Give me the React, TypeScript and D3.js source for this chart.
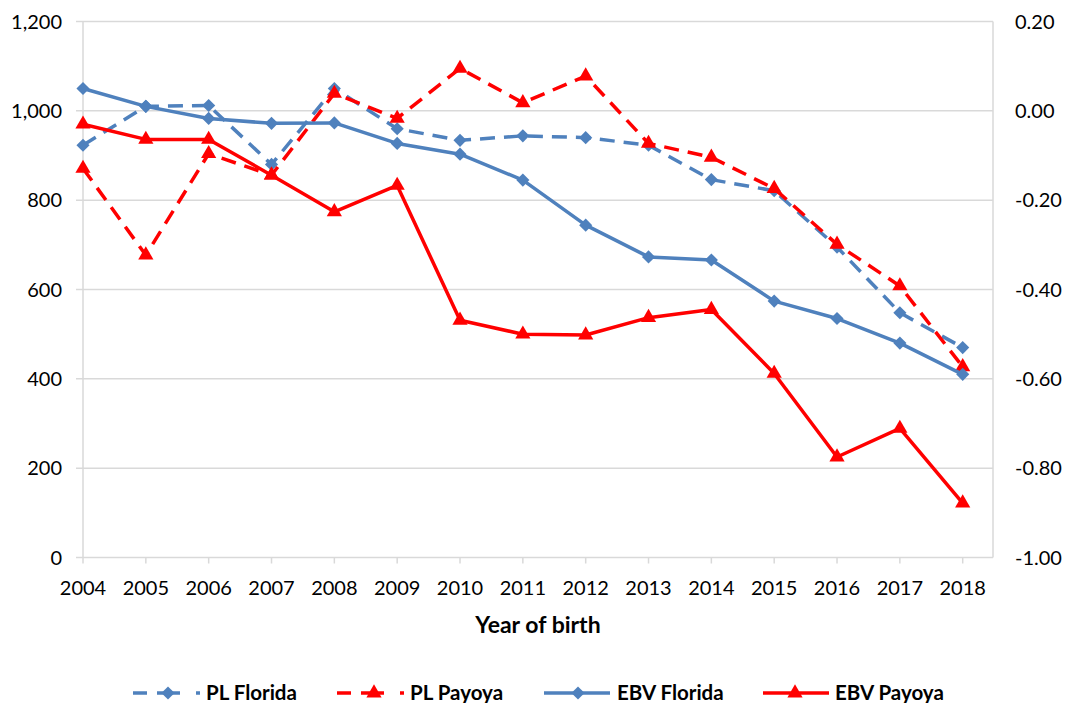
import React from "react";
import * as d3 from "d3";

const years = ["2004","2005","2006","2007","2008","2009","2010","2011","2012","2013","2014","2015","2016","2017","2018"];
const plFlorida = [923, 1010, 1012, 880, 1050, 960, 934, 944, 940, 923, 846, 821, 695, 548, 470];
const plPayoya = [871, 677, 904, 856, 1039, 983, 1095, 1018, 1078, 927, 896, 826, 701, 608, 427];
const ebvFlorida = [0.05, 0.01, -0.017, -0.028, -0.027, -0.073, -0.097, -0.155, -0.256, -0.327, -0.334, -0.426, -0.465, -0.52, -0.59];
const ebvPayoya = [-0.03, -0.064, -0.064, -0.144, -0.226, -0.167, -0.469, -0.5, -0.502, -0.463, -0.445, -0.588, -0.775, -0.711, -0.878];
const leftTicks = [0, 200, 400, 600, 800, 1000, 1200];
const rightTicks = [-1, -0.8, -0.6, -0.4, -0.2, 0, 0.2];

const BLUE = "#4F81BD";
const RED = "#FF0000";
const GRID = "#D9D9D9";
const FONT = "Lato, 'Open Sans', sans-serif";

const W = 1067, H = 703;
const plotL = 83, plotR = 993, plotT = 21.5, plotB = 557.5;

export default function App() {
  const x = d3.scalePoint<string>().domain(years).range([plotL, 962.7]);
  const yL = d3.scaleLinear().domain([0, 1200]).range([plotB, plotT]);
  const yR = d3.scaleLinear().domain([-1, 0.2]).range([plotB, plotT]);
  const fmtL = d3.format(",");
  const fmtR = (v: number) => d3.format(".2f")(v).replace("\u2212", "-");

  const series = [
    { name: "PL Florida", values: plFlorida, y: yL, color: BLUE, dash: "15,9", marker: "diamond" },
    { name: "PL Payoya", values: plPayoya, y: yL, color: RED, dash: "15,9", marker: "triangle" },
    { name: "EBV Florida", values: ebvFlorida, y: yR, color: BLUE, dash: null, marker: "diamond" },
    { name: "EBV Payoya", values: ebvPayoya, y: yR, color: RED, dash: null, marker: "triangle" },
  ];

  const diamond = d3.symbol().type(d3.symbolDiamond2).size(110)();
  const triangle = d3.symbol().type(d3.symbolTriangle).size(100)();
  const markerPath = (m: string) => (m === "diamond" ? diamond : triangle);

  const legendItems = [
    { s: series[0], x0: 133, x1: 200, mx: 168, tx: 206, dash: "14,10,23,16,4" },
    { s: series[1], x0: 337, x1: 404, mx: 374, tx: 410, dash: "14,10,23,16,4" },
    { s: series[2], x0: 544, x1: 610, mx: 578, tx: 617, dash: null },
    { s: series[3], x0: 763, x1: 829, mx: 795, tx: 835, dash: null },
  ];
  const legY = 693;

  return (
    <svg width={W} height={H} style={{ position: "fixed", left: 0, top: 0, background: "#fff" }} fontFamily={FONT}>
      <rect x={0} y={0} width={W} height={H} fill="#fff" />
      {leftTicks.map((t) => (
        <line key={"g" + t} x1={76} x2={plotR} y1={yL(t)} y2={yL(t)} stroke={GRID} strokeWidth={1.5} />
      ))}
      <line x1={plotR} x2={plotR} y1={plotT} y2={plotB} stroke={GRID} strokeWidth={1.5} />
      <line x1={plotL} x2={plotL} y1={plotT} y2={plotB} stroke={GRID} strokeWidth={1.5} />
      {years.map((yr) => (
        <line key={"xt" + yr} x1={x(yr)} x2={x(yr)} y1={plotB} y2={plotB + 6} stroke={GRID} strokeWidth={1.5} />
      ))}
      {leftTicks.map((t) => (
        <text key={"lt" + t} x={62} y={yL(t)} dy="0.35em" textAnchor="end" fontSize={20} fill="#000">
          {fmtL(t)}
        </text>
      ))}
      {rightTicks.map((t) => (
        <text key={"rt" + t} x={1015} y={yR(t)} dy="0.35em" textAnchor="start" fontSize={20} fill="#000">
          {fmtR(t)}
        </text>
      ))}
      {years.map((yr) => (
        <text key={"xl" + yr} x={x(yr)} y={588} dy="0.35em" textAnchor="middle" fontSize={20} fill="#000">
          {yr}
        </text>
      ))}
      <text x={(plotL + plotR) / 2} y={625} dy="0.35em" textAnchor="middle" fontSize={23} fontWeight="bold" fill="#000">
        Year of birth
      </text>
      {series.map((s) => {
        const line = d3
          .line<number>()
          .x((_, i) => x(years[i]) as number)
          .y((v) => s.y(v));
        return (
          <g key={s.name}>
            <path d={line(s.values) || ""} fill="none" stroke={s.color} strokeWidth={3.5} strokeDasharray={s.dash || undefined} strokeLinejoin="round" />
            {s.values.map((v, i) => (
              <path key={i} d={markerPath(s.marker) || ""} transform={`translate(${x(years[i])},${s.y(v)})`} fill={s.color} />
            ))}
          </g>
        );
      })}
      {legendItems.map((li) => (
        <g key={"leg" + li.s.name}>
          <line x1={li.x0} x2={li.x1} y1={legY} y2={legY} stroke={li.s.color} strokeWidth={3.5} strokeDasharray={li.dash || undefined} />
          <path d={markerPath(li.s.marker) || ""} transform={`translate(${li.mx},${legY})`} fill={li.s.color} />
          <text x={li.tx} y={legY} dy="0.35em" fontSize={20.5} fontWeight="bold" fill="#000">
            {li.s.name}
          </text>
        </g>
      ))}
    </svg>
  );
}
